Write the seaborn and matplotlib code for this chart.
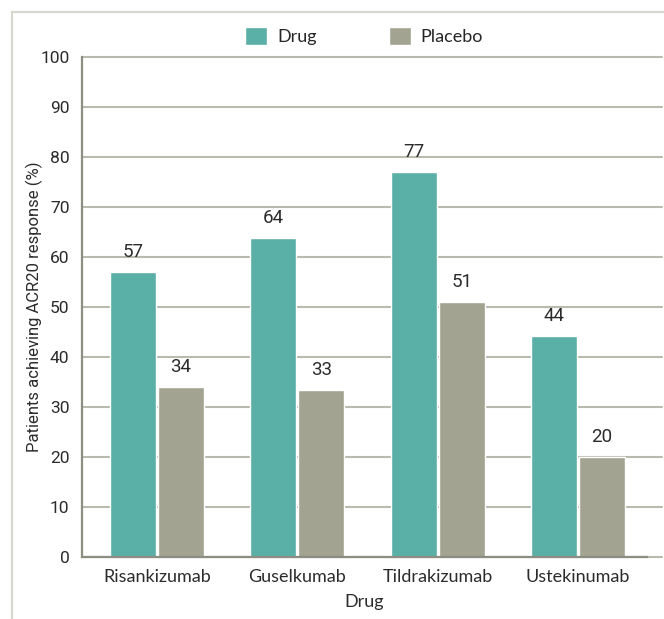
import matplotlib
matplotlib.use("Agg")
import matplotlib.pyplot as plt
import seaborn as sns
import pandas as pd
from matplotlib.patches import Rectangle

# ---- data ----
drugs = ["Risankizumab", "Guselkumab", "Tildrakizumab", "Ustekinumab"]
drug_values = [57, 63.8, 77, 44.2]
placebo_values = [34, 33.4, 51, 20]
series = ["Drug", "Placebo"]
y_ticks = [0, 10, 20, 30, 40, 50, 60, 70, 80, 90, 100]

df = pd.DataFrame({
    "Drug": drugs * 2,
    "Group": [series[0]] * len(drugs) + [series[1]] * len(drugs),
    "Value": drug_values + placebo_values,
})

sns.set_theme(style="white")
plt.rcParams["font.family"] = ["Roboto", "DejaVu Sans"]

W, H = 664, 619
fig = plt.figure(figsize=(W / 100, H / 100), dpi=100)
fig.patch.set_facecolor("white")

# light frame around the figure (left and top edges visible)
fig.patches.append(Rectangle((12 / W, -0.1), 1.2, 1.1 - 12 / H,
                             transform=fig.transFigure, fill=False,
                             edgecolor="#d6d9d0", linewidth=1.6, zorder=0))

ax = fig.add_axes([82 / W, 62 / H, 565 / W, 500 / H])

palette = {"Drug": "#5aafa6", "Placebo": "#a2a391"}
sns.barplot(data=df, x="Drug", y="Value", hue="Group", palette=palette,
            width=0.684, gap=0.04, saturation=1, ax=ax, legend=True,
            zorder=2)

ax.set_xlim(-0.535, 3.492)
ax.set_ylim(0, 100)
ax.set_yticks(y_ticks)

for yv in y_ticks:
    ax.axhline(yv, xmin=0, xmax=1.0265, color="#b9baae", linewidth=1.5,
               clip_on=False, zorder=0.5)

for side in ["top", "right"]:
    ax.spines[side].set_visible(False)
for side in ["left", "bottom"]:
    ax.spines[side].set_color("#8d8e82")
    ax.spines[side].set_linewidth(1.6)
    ax.spines[side].set_zorder(3)

ax.tick_params(axis="y", length=0, pad=9, labelsize=12.5, labelcolor="#2b2b2b")
ax.tick_params(axis="x", length=0, pad=9, labelsize=13, labelcolor="#2b2b2b")
for lab in ax.get_xticklabels():
    lab.set_family(["Lato", "DejaVu Sans"])

ax.set_xlabel("Drug", fontsize=13, family=["Lato", "DejaVu Sans"],
              color="#2b2b2b", labelpad=6)
ax.set_ylabel("Patients achieving ACR20 response (%)", fontsize=12,
              color="#2b2b2b")
ax.yaxis.set_label_coords(-0.069, 0.5)

for cont in ax.containers:
    ax.bar_label(cont, fmt="%.0f", padding=8, fontsize=13.5, color="#2b2b2b")

handles, labels = ax.get_legend_handles_labels()
ax.legend_.remove()
fig.legend(handles, labels, loc="center", bbox_to_anchor=(364 / W, 1 - 36 / H),
           ncol=2, frameon=False, handlelength=1.22, handleheight=1.22,
           handletextpad=0.55, columnspacing=4.0,
           prop={"family": ["Lato", "DejaVu Sans"], "size": 13})

fig.savefig("out.png", dpi=100, facecolor="white")
